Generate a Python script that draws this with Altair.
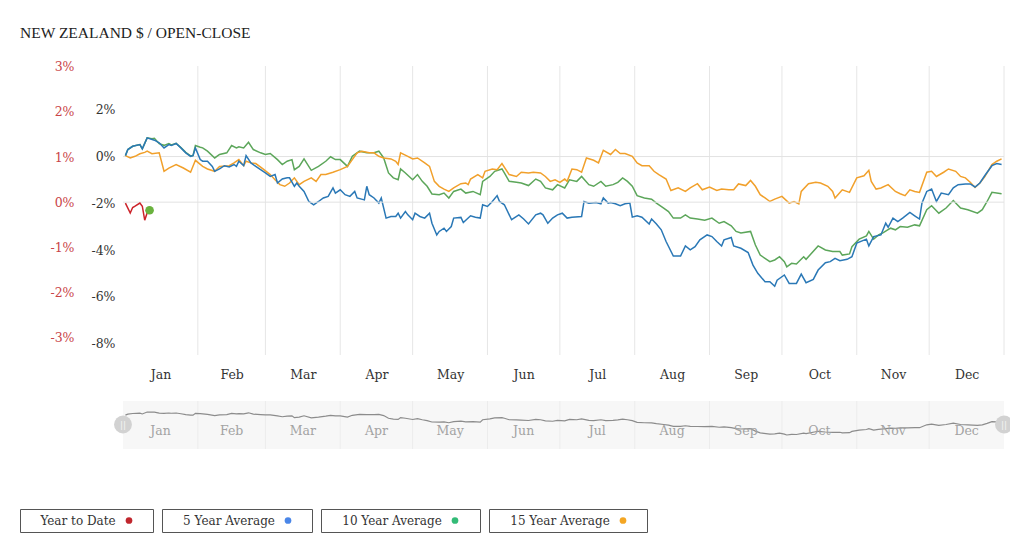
import altair as alt
import pandas as pd

TITLE = "NEW ZEALAND $ / OPEN-CLOSE"
YEAR = 2023
MONTHS = ["Jan", "Feb", "Mar", "Apr", "May", "Jun", "Jul", "Aug", "Sep", "Oct", "Nov", "Dec"]
SERIES = ["Year to Date", "5 Year Average", "10 Year Average", "15 Year Average"]
LINE_COLORS = ["#cc2229", "#2a78b6", "#5ca65a", "#f1a02b"]
LEGEND_DOT_COLORS = ["#c0262d", "#4a86e8", "#33bb77", "#f4a623"]
YTD_END_COLOR = "#6ab23e"

BLACK_TICKS = [2, 0, -2, -4, -6, -8]
RED_TICKS = [3, 2, 1, 0, -1, -2, -3]

# day of year (0 = 1 Jan) and percent values
YTD_DAY = [1, 3, 4, 5, 7, 8, 9, 10, 11]
YTD_VAL = [-0.02, -0.24, -0.12, -0.09, -0.02, -0.09, -0.40, -0.24, -0.18]

AVG5_DAY = [1, 2, 4, 7, 8, 10, 13, 15, 17, 19, 20, 22, 24, 26, 28, 29, 30, 32, 33, 35,
            37, 38, 40, 42, 44, 46, 47, 48, 50, 51, 53, 55, 57, 59, 61, 63, 64, 66, 68, 69,
            71, 72, 73, 75, 77, 79, 81, 83, 85, 87, 88, 90, 92, 94, 96, 97, 100, 101, 102, 104,
            106, 107, 109, 111, 113, 114, 115, 117, 118, 120, 121, 123, 125, 127, 128, 130, 131, 133, 134, 136,
            137, 140, 141, 144, 146, 148, 149, 151, 153, 155, 156, 158, 161, 164, 166, 168, 171, 173, 174, 176,
            178, 180, 182, 184, 186, 190, 191, 193, 196, 198, 199, 201, 202, 204, 206, 208, 210, 211, 213, 215,
            218, 219, 221, 223, 225, 228, 231, 233, 235, 237, 239, 242, 244, 246, 248, 249, 252, 253, 256, 259,
            261, 263, 266, 268, 270, 271, 274, 276, 279, 281, 283, 286, 288, 291, 293, 295, 297, 300, 302, 304,
            308, 309, 311, 314, 316, 317, 319, 321, 323, 326, 328, 330, 331, 333, 335, 337, 339, 342, 344, 346,
            349, 351, 353, 355, 357, 360, 362, 364]
AVG5_VAL = [0.04, 0.30, 0.44, 0.51, 0.33, 0.80, 0.70, 0.59, 0.37, 0.51, 0.47, 0.56, 0.37, 0.16, 0.01, 0.04, 0.37, -0.13, -0.20, -0.20,
            -0.42, -0.63, -0.53, -0.39, -0.44, -0.34, -0.42, -0.20, -0.39, 0.04, -0.27, -0.42, -0.56, -0.70, -0.85, -0.77, -1.13, -0.96, -0.91, -0.91,
            -1.27, -1.13, -1.27, -1.49, -1.92, -2.06, -1.92, -1.77, -1.70, -1.34, -1.56, -1.42, -1.63, -1.70, -1.49, -1.77, -1.85, -1.27, -1.63, -1.77,
            -1.99, -1.77, -2.63, -2.56, -2.56, -2.42, -2.63, -2.35, -2.49, -2.70, -2.42, -2.56, -2.63, -2.42, -2.85, -3.35, -3.20, -3.06, -3.20, -2.99,
            -2.63, -2.60, -2.82, -2.53, -2.59, -2.63, -2.06, -2.13, -1.92, -1.67, -1.92, -2.06, -2.70, -2.49, -2.67, -2.88, -2.49, -2.42, -2.49, -2.85,
            -2.63, -2.49, -2.42, -2.63, -2.59, -2.56, -1.92, -1.99, -1.96, -2.02, -1.77, -1.99, -1.96, -2.02, -2.10, -2.02, -1.99, -2.59, -2.53, -2.59,
            -2.88, -2.67, -2.88, -3.13, -3.63, -4.25, -4.25, -3.82, -3.99, -3.85, -3.56, -3.35, -3.42, -3.63, -3.82, -3.56, -3.46, -3.82, -3.92, -4.10,
            -4.64, -4.99, -5.35, -5.35, -5.54, -5.28, -5.06, -5.42, -5.42, -5.02, -5.39, -5.25, -4.85, -4.54, -4.49, -4.35, -4.45, -4.39, -4.28, -3.70,
            -3.53, -3.82, -3.42, -3.35, -2.85, -3.02, -2.63, -2.78, -2.63, -2.39, -2.53, -2.67, -1.99, -1.49, -1.39, -1.92, -1.56, -1.63, -1.34, -1.20,
            -1.17, -1.17, -1.30, -1.13, -0.82, -0.39, -0.30, -0.34]

AVG10_DAY = [1, 2, 4, 7, 8, 10, 12, 13, 15, 17, 19, 20, 22, 24, 26, 28, 29, 30, 32, 33,
             35, 38, 40, 43, 45, 47, 48, 50, 52, 54, 57, 59, 61, 64, 66, 68, 70, 71, 73, 75,
             78, 81, 84, 86, 88, 90, 93, 95, 98, 101, 104, 106, 108, 110, 112, 114, 115, 117, 120, 122,
             124, 126, 128, 131, 133, 135, 137, 140, 142, 145, 148, 149, 152, 154, 157, 158, 160, 163, 165, 168,
             171, 173, 175, 178, 180, 183, 185, 188, 190, 193, 195, 198, 200, 203, 205, 207, 209, 211, 213, 216,
             219, 221, 224, 226, 228, 231, 233, 235, 238, 241, 244, 247, 249, 252, 254, 256, 260, 262, 264, 268,
             270, 272, 274, 275, 277, 279, 282, 283, 288, 291, 294, 297, 298, 301, 302, 305, 308, 309, 311, 313,
             315, 318, 320, 322, 325, 328, 330, 333, 335, 338, 341, 344, 347, 350, 354, 356, 358, 360, 364]
AVG10_VAL = [0.04, 0.30, 0.44, 0.51, 0.33, 0.80, 0.76, 0.78, 0.55, 0.48, 0.56, 0.50, 0.56, 0.38, 0.18, 0.03, 0.04, 0.47, 0.40, 0.37,
             0.23, -0.06, 0.09, 0.16, 0.47, 0.37, 0.42, 0.37, 0.61, 0.30, 0.16, 0.09, 0.13, -0.13, -0.34, -0.20, -0.13, -0.56, -0.42, -0.10,
             -0.59, -0.42, -0.20, -0.01, -0.13, -0.13, -0.42, 0.01, 0.23, 0.16, 0.16, 0.23, -0.06, -0.70, -0.91, -0.99, -0.53, -0.70, -0.99, -0.77,
             -1.06, -1.27, -1.60, -1.63, -1.56, -1.77, -1.49, -1.39, -1.56, -1.49, -1.63, -1.06, -0.85, -0.63, -0.53, -0.70, -1.06, -1.10, -1.13, -1.24,
             -0.96, -1.06, -1.34, -1.42, -1.20, -1.34, -0.99, -1.06, -0.85, -1.20, -1.27, -1.06, -1.27, -1.20, -1.10, -0.91, -1.06, -1.27, -1.67, -1.77,
             -1.82, -1.99, -2.20, -2.35, -2.63, -2.63, -2.49, -2.63, -2.67, -2.72, -2.63, -2.85, -2.78, -2.96, -3.20, -3.27, -3.20, -3.78, -4.21, -4.49,
             -4.42, -4.28, -4.49, -4.71, -4.56, -4.59, -4.28, -4.39, -3.82, -3.99, -4.06, -4.06, -4.21, -4.16, -3.85, -3.53, -3.39, -3.20, -3.53, -3.35,
             -3.25, -3.06, -3.13, -2.99, -3.02, -2.92, -2.96, -2.27, -2.10, -2.42, -2.20, -1.88, -2.20, -2.27, -2.42, -2.27, -1.92, -1.53, -1.59]

AVG15_DAY = [1, 3, 5, 7, 9, 10, 12, 15, 17, 19, 22, 25, 28, 30, 33, 35, 38, 40, 44, 46,
             48, 50, 51, 53, 55, 58, 61, 63, 65, 67, 69, 71, 73, 75, 78, 80, 82, 84, 87, 90,
             93, 95, 97, 99, 102, 104, 106, 108, 111, 113, 114, 115, 118, 120, 122, 125, 127, 129, 131, 133,
             135, 137, 140, 142, 143, 144, 147, 149, 150, 153, 155, 157, 160, 163, 165, 168, 170, 173, 175, 177,
             179, 181, 183, 184, 186, 188, 190, 192, 195, 197, 199, 202, 204, 206, 208, 211, 213, 215, 218, 220,
             222, 225, 227, 230, 233, 235, 238, 240, 243, 246, 248, 251, 253, 255, 258, 260, 262, 264, 266, 268,
             270, 273, 276, 278, 280, 281, 284, 287, 289, 292, 294, 295, 298, 301, 304, 307, 309, 310, 312, 314,
             317, 320, 322, 324, 326, 328, 330, 333, 335, 337, 340, 342, 345, 347, 349, 351, 353, 355, 357, 360,
             362, 364]
AVG15_VAL = [0.04, -0.06, 0.01, 0.12, 0.18, 0.23, 0.12, 0.16, -0.63, -0.49, -0.34, -0.49, -0.67, -0.16, -0.42, -0.53, -0.63, -0.42, -0.39, -0.27,
             -0.13, -0.39, -0.20, -0.27, -0.30, -0.53, -0.77, -0.99, -1.20, -1.27, -1.13, -0.91, -1.20, -1.06, -0.91, -1.06, -0.77, -0.77, -0.67, -0.56,
             -0.42, -0.13, 0.16, 0.23, 0.16, 0.16, 0.01, -0.06, -0.10, -0.20, -0.34, 0.16, 0.01, -0.10, -0.06, -0.27, -0.42, -1.06, -1.27, -1.39,
             -1.49, -1.34, -1.16, -1.13, -1.20, -0.96, -0.77, -0.91, -0.63, -0.53, -0.56, -0.30, -0.77, -0.85, -0.67, -0.70, -0.67, -0.70, -0.85, -1.06,
             -0.99, -1.10, -0.96, -1.06, -0.53, -0.56, -0.67, -0.06, -0.16, -0.27, 0.27, 0.09, 0.30, 0.13, 0.13, 0.01, -0.27, -0.39, -0.39, -0.63,
             -0.77, -0.96, -1.45, -1.34, -1.49, -1.34, -1.16, -1.42, -1.30, -1.45, -1.39, -1.42, -1.42, -1.17, -1.24, -1.02, -1.27, -1.63, -1.77, -1.92,
             -1.82, -1.70, -1.99, -1.92, -2.02, -1.49, -1.16, -1.10, -1.13, -1.27, -1.49, -1.77, -1.42, -1.53, -0.91, -0.82, -0.59, -1.06, -1.39, -1.34,
             -1.20, -1.49, -1.59, -1.67, -1.42, -1.49, -1.53, -0.67, -0.63, -0.85, -0.67, -0.53, -0.63, -0.85, -0.91, -1.10, -1.32, -1.13, -0.87, -0.34,
             -0.20, -0.10]

# ---------------------------------------------------------------- tables
start = pd.Timestamp(YEAR, 1, 1)


def frame(days, vals, name):
    return pd.DataFrame({"date": start + pd.to_timedelta(days, unit="D"),
                         "value": vals, "series": name})


ytd_df = frame(YTD_DAY, YTD_VAL, SERIES[0])
avg5_df = frame(AVG5_DAY, AVG5_VAL, SERIES[1])
avg10_df = frame(AVG10_DAY, AVG10_VAL, SERIES[2])
avg15_df = frame(AVG15_DAY, AVG15_VAL, SERIES[3])

month_starts = pd.date_range(start, periods=13, freq="MS")
mids = month_starts[:-1] + (month_starts[1:] - month_starts[:-1]) / 2
months_df = pd.DataFrame({"start": month_starts[:-1], "end": month_starts[1:],
                          "mid": mids, "month": MONTHS})
grid_df = pd.DataFrame({"date": month_starts[1:]})
sep_df = pd.DataFrame({"date": month_starts[1:-1]})
handle_df = pd.DataFrame({"date": [month_starts[0], month_starts[-1]]})
zero_df = pd.DataFrame({"v": [0]})
one_df = pd.DataFrame({"k": [0]})

# ---------------------------------------------------------------- styles
FONT = "DejaVu Serif"
X_SCALE = alt.Scale(domain=[alt.DateTime(year=YEAR, month=1, date=1),
                            alt.DateTime(year=YEAR + 1, month=1, date=1)], nice=False)
X_AXIS = alt.Axis(values=[alt.DateTime(year=t.year, month=t.month, date=t.day, hours=t.hour) for t in mids],
                  format="%b", grid=False, ticks=False, domain=False, labelPadding=13,
                  labelFont=FONT, labelFontSize=12.5, labelColor="#333333", title=None,
                  labelFlush=False, labelOverlap=False)
BLACK_AXIS = alt.Axis(values=BLACK_TICKS, labelExpr="datum.value + '%'", orient="left",
                      grid=False, ticks=False, domain=False, labelPadding=8, title=None,
                      labelFont=FONT, labelFontSize=12.5, labelColor="#333333")
RED_AXIS = alt.Axis(values=RED_TICKS, labelExpr="datum.value + '%'", orient="left", offset=41,
                    grid=False, ticks=False, domain=False, labelPadding=8, title=None,
                    labelFont=FONT, labelFontSize=12.5, labelColor="#c94448")
BLACK_SCALE = alt.Scale(domain=[-8.48, 3.87], nice=False, zero=False)
RED_SCALE = alt.Scale(domain=[-3.39, 3.02], nice=False, zero=False)

NAV_TOP, NAV_BOTTOM = 335, 383

# ---------------------------------------------------------------- layers
grid = alt.Chart(grid_df).mark_rule(color="#e6e6e6", strokeWidth=1).encode(
    x=alt.X("date:T", scale=X_SCALE, axis=X_AXIS))

nav_bg = alt.Chart(months_df).mark_rect(color="#f7f7f7").encode(
    x=alt.X("start:T", scale=X_SCALE, axis=X_AXIS), x2="end:T",
    y=alt.value(NAV_TOP), y2=alt.value(NAV_BOTTOM))
nav_sep = alt.Chart(sep_df).mark_rule(color="#ececec", strokeWidth=1).encode(
    x=alt.X("date:T", scale=X_SCALE, axis=X_AXIS),
    y=alt.value(NAV_TOP), y2=alt.value(NAV_BOTTOM))
nav_labels = alt.Chart(months_df).mark_text(font=FONT, fontSize=12.5, color="#a3a3a3").encode(
    x=alt.X("mid:T", scale=X_SCALE, axis=X_AXIS), y=alt.value(365), text="month:N")
nav_line = alt.Chart(avg10_df).mark_line(color="#8c8c8c", strokeWidth=1.2).encode(
    x=alt.X("date:T", scale=X_SCALE, axis=X_AXIS),
    y=alt.Y("value:Q", scale=alt.Scale(range=[369, 346], zero=False, nice=False), axis=None))
nav_handles = alt.Chart(handle_df).mark_circle(size=320, color="#d2d2d2", opacity=1).encode(
    x=alt.X("date:T", scale=X_SCALE, axis=X_AXIS), y=alt.value(358.5))
nav_handle_marks = alt.Chart(handle_df).mark_text(text="||", fontSize=9, color="#f2f2f2",
                                                  font="DejaVu Sans").encode(
    x=alt.X("date:T", scale=X_SCALE, axis=X_AXIS), y=alt.value(358.5))

black_zero = alt.Chart(zero_df).mark_rule(color="#e2e2e2", strokeWidth=1).encode(
    y=alt.Y("v:Q", scale=BLACK_SCALE, axis=BLACK_AXIS))


def avg_line(df, color):
    return alt.Chart(df).mark_line(color=color, strokeWidth=1.5).encode(
        x=alt.X("date:T", scale=X_SCALE, axis=X_AXIS),
        y=alt.Y("value:Q", scale=BLACK_SCALE, axis=BLACK_AXIS))


black_layer = alt.layer(black_zero,
                        avg_line(avg10_df, LINE_COLORS[2]),
                        avg_line(avg15_df, LINE_COLORS[3]),
                        avg_line(avg5_df, LINE_COLORS[1]))

red_zero = alt.Chart(zero_df).mark_rule(color="#e2e2e2", strokeWidth=1).encode(
    y=alt.Y("v:Q", scale=RED_SCALE, axis=RED_AXIS))
ytd_line = alt.Chart(ytd_df).mark_line(color=LINE_COLORS[0], strokeWidth=1.5).encode(
    x=alt.X("date:T", scale=X_SCALE, axis=X_AXIS),
    y=alt.Y("value:Q", scale=RED_SCALE, axis=RED_AXIS))
ytd_dot = alt.Chart(ytd_df.tail(1)).mark_circle(size=75, color=YTD_END_COLOR, opacity=1).encode(
    x=alt.X("date:T", scale=X_SCALE, axis=X_AXIS),
    y=alt.Y("value:Q", scale=RED_SCALE, axis=RED_AXIS))
red_layer = alt.layer(red_zero, ytd_line, ytd_dot)

# legend boxes (box left, box right, text centre, dot x) relative to plot origin
LEGEND_BOX = [(-103, 30, -45, 6), (39, 189, 106, 165), (198, 357, 269, 332), (366, 524, 437, 500)]
LEG_Y0, LEG_Y1, LEG_YC = 443, 466, 454.5
legend_layers = []
for label, dot_color, (bx0, bx1, tx, dx) in zip(SERIES, LEGEND_DOT_COLORS, LEGEND_BOX):
    legend_layers.append(alt.Chart(one_df).mark_rect(fill="white", stroke="#555555", strokeWidth=1).encode(
        x=alt.value(bx0 + 0.5), x2=alt.value(bx1 + 0.5), y=alt.value(LEG_Y0 + 0.5), y2=alt.value(LEG_Y1 + 0.5)))
    legend_layers.append(alt.Chart(one_df).mark_text(font=FONT, fontSize=12, color="#333333",
                                                     align="center", baseline="middle").encode(
        x=alt.value(tx), y=alt.value(LEG_YC), text=alt.value(label)))
    legend_layers.append(alt.Chart(one_df).mark_circle(size=45, color=dot_color, opacity=1).encode(
        x=alt.value(dx), y=alt.value(LEG_YC)))

chart = alt.layer(
    grid, nav_bg, nav_sep, nav_line, nav_labels, nav_handles, nav_handle_marks,
    black_layer, red_layer, *legend_layers
).resolve_scale(y="independent").properties(
    width=881, height=289,
    background="white",
    autosize=alt.AutoSizeParams(type="none"),
    padding={"left": 115, "top": 58, "right": 6, "bottom": 180},
    title=alt.TitleParams(TITLE, anchor="start", frame="group", dx=-103, offset=19,
                          font="Liberation Serif", fontSize=15.5, fontWeight="normal", color="#222222"),
).configure_view(stroke=None)

chart.save("out.html", embed_options={"renderer": "svg", "actions": False})
